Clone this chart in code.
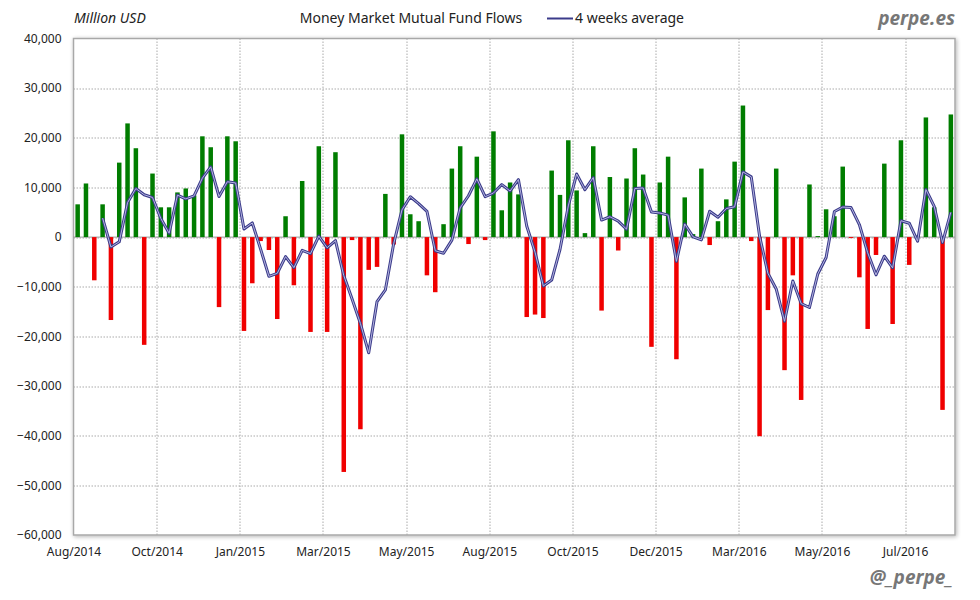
<!DOCTYPE html>
<html>
<head>
<meta charset="utf-8">
<script src="https://cdn.jsdelivr.net/npm/d3@7"></script>
<style>
    body { margin: 0; background: #fff; }
    text { font-family: 'Noto Sans', 'DejaVu Sans', sans-serif; }
</style>
</head>
<body>
<div id="chart"></div>
<script>
// weekly flows, million USD
const flows = [
    6600, 10800, -8700, 6600, -16700, 15000, 22900, 17900, -21700, 12800,
    6000, 6000, 9000, 9800, 8400, 20300, 18100, -14100, 20300, 19300,
    -18900, -9300, -800, -2600, -16500, 4200, -9700, 11300, -19100, 18300,
    -19100, 17100, -47300, -600, -38700, -6600, -6000, 8700, -1500, 20700,
    4600, 3200, -7700, -11100, 2600, 13800, 18300, -1400, 16200, -600,
    21300, 5400, 11000, 8600, -16100, -15600, -16300, 13400, 8500, 19500,
    9400, 800, 18300, -14800, 12100, -2700, 11800, 17900, 12600, -22100,
    11000, 16200, -24600, 8000, 600, 13800, -1600, 3200, 7600, 15200,
    26500, -800, -40100, -14700, 13800, -26800, -7700, -32800, 10600, 200,
    5600, 4200, 14200, -200, -8100, -18500, -3600, 14800, -17500, 19500,
    -5600, 300, 24100, 6000, -34800, 24700,
];

// 4 weeks average line, starts at the 4th week
const average = [
    null, null, null, 3830, -2000, -950, 6950, 9780, 8530, 7980,
    3750, 780, 8450, 7700, 8300, 11880, 14150, 8180, 11150, 10900,
    1650, 2850, -2430, -7900, -7300, -3930, -6150, -2680, -3330, 200,
    -2150, -700, -7750, -12480, -17380, -23300, -12980, -10650, -1350, 5480,
    8130, 6750, 5200, -2750, -3250, -600, 5900, 8330, 11730, 8130,
    8880, 10580, 9280, 11580, 2230, -3030, -9850, -8650, -2500, 6280,
    12700, 9550, 12000, 3430, 4100, 3230, 1600, 9780, 9900, 5050,
    4850, 4430, -4880, 2650, 50, -550, 5200, 4000, 5750, 6100,
    13130, 12130, 200, -7280, -10450, -16950, -8850, -13380, -14180, -7430,
    -4100, 5150, 6050, 5950, 2530, -3150, -7600, -3850, -6200, 3300,
    2800, -830, 9580, 6200, -1100, 5000,
];

// a label every 10 weeks
const tickLabels = [
    'Aug/2014', 'Oct/2014', 'Jan/2015', 'Mar/2015', 'May/2015', 'Aug/2015',
    'Oct/2015', 'Dec/2015', 'Mar/2016', 'May/2016', 'Jul/2016',
];
const yTicks = [40000, 30000, 20000, 10000, 0, -10000, -20000, -30000, -40000, -50000, -60000];

const width = 980;
const height = 600;
const margin = {top: 38.5, right: 25, bottom: 65, left: 73.5};
const innerW = width - margin.left - margin.right;
const innerH = height - margin.top - margin.bottom;

const svg = d3
    .select('#chart')
    .append('svg')
    .attr('width', width)
    .attr('height', height);

const defs = svg.append('defs');
const shadow = defs.append('filter')
    .attr('id', 'shadow')
    .attr('x', '-2%')
    .attr('y', '-2%')
    .attr('width', '104%')
    .attr('height', '104%');
shadow.append('feGaussianBlur')
    .attr('in', 'SourceAlpha')
    .attr('stdDeviation', 2);
shadow.append('feOffset')
    .attr('dx', 1)
    .attr('dy', 1)
    .attr('result', 'blur');
shadow.append('feComponentTransfer')
    .append('feFuncA')
    .attr('type', 'linear')
    .attr('slope', 0.3);
const merge = shadow.append('feMerge');
merge.append('feMergeNode');
merge.append('feMergeNode').attr('in', 'SourceGraphic');

const g = svg.append('g')
    .attr('transform', 'translate(' + margin.left + ',' + margin.top + ')');

// category positions: linear over week index so ticks sit on band edges
const x = d3
    .scaleLinear()
    .domain([0, flows.length])
    .range([0, innerW]);
const step = x(1) - x(0);
const barW = 4.5;

const y = d3
    .scaleLinear()
    .domain([-60000, 40000])
    .range([innerH, 0]);

// frame
g.append('rect')
    .attr('width', innerW)
    .attr('height', innerH)
    .attr('fill', '#fff')
    .attr('stroke', '#a8a8a8')
    .attr('stroke-width', 1.5)
    .attr('filter', 'url(#shadow)');

// grid
g.selectAll('.hgrid')
    .data(yTicks.filter((d) => d !== 40000 && d !== -60000))
    .enter()
    .append('line')
    .attr('class', 'hgrid')
    .attr('x1', 0)
    .attr('x2', innerW)
    .attr('y1', (d) => Math.round(y(d)) + 0.5)
    .attr('y2', (d) => Math.round(y(d)) + 0.5)
    .attr('stroke', '#aaa')
    .attr('stroke-dasharray', '1.5,1.5');

g.selectAll('.vgrid')
    .data(tickLabels.slice(1))
    .enter()
    .append('line')
    .attr('class', 'vgrid')
    .attr('x1', (d, i) => Math.round(x((i + 1) * 10)) + 0.5)
    .attr('x2', (d, i) => Math.round(x((i + 1) * 10)) + 0.5)
    .attr('y1', 0)
    .attr('y2', innerH)
    .attr('stroke', '#aaa')
    .attr('stroke-dasharray', '1.5,1.5');

// zero line
g.append('line')
    .attr('x1', 0)
    .attr('x2', innerW)
    .attr('y1', y(0))
    .attr('y2', y(0))
    .attr('stroke', '#999')
    .attr('stroke-width', 1);

// bars
g.selectAll('.bar')
    .data(flows)
    .enter()
    .append('rect')
    .attr('class', 'bar')
    .attr('x', (d, i) => x(i) + (step - barW) / 2)
    .attr('width', barW)
    .attr('y', (d) => y(Math.max(0, d)))
    .attr('height', (d) => Math.abs(y(d) - y(0)))
    .attr('fill', (d) => d >= 0 ? '#007d00' : '#f00000');

// 4 weeks average
const line = d3
    .line()
    .defined((d) => d !== null)
    .x((d, i) => x(i) + step / 2)
    .y((d) => y(d));

g.append('path')
    .datum(average)
    .attr('d', line)
    .attr('fill', 'none')
    .attr('stroke', '#3b3b8a')
    .attr('stroke-width', 3)
    .attr('stroke-linejoin', 'round');
g.append('path')
    .datum(average)
    .attr('d', line)
    .attr('fill', 'none')
    .attr('stroke', '#b4b4e0')
    .attr('stroke-width', 1)
    .attr('stroke-linejoin', 'round');

// axes
const yAxis = d3
    .axisLeft(y)
    .tickValues(yTicks)
    .tickFormat(d3.format(','))
    .tickSize(0)
    .tickPadding(12);
const yG = g.append('g').call(yAxis);
yG.select('.domain').remove();
yG.selectAll('text')
    .attr('font-size', 12)
    .attr('fill', '#222');

const xAxis = d3
    .axisBottom(x)
    .tickValues(tickLabels.map((d, i) => i * 10))
    .tickFormat((d) => tickLabels[d / 10])
    .tickSize(0)
    .tickPadding(12);
const xG = g.append('g')
    .attr('transform', 'translate(0,' + innerH + ')')
    .call(xAxis);
xG.select('.domain').remove();
xG.selectAll('text')
    .attr('font-size', 12)
    .attr('fill', '#222');

// header
svg.append('text')
    .attr('x', 74)
    .attr('y', 23)
    .attr('font-size', 14)
    .attr('font-style', 'italic')
    .attr('fill', '#222')
    .text('Million USD');

svg.append('text')
    .attr('x', 411)
    .attr('y', 23)
    .attr('text-anchor', 'middle')
    .attr('font-size', 14)
    .attr('fill', '#222')
    .text('Money Market Mutual Fund Flows');

svg.append('line')
    .attr('x1', 547)
    .attr('x2', 573)
    .attr('y1', 18.5)
    .attr('y2', 18.5)
    .attr('stroke', '#3b3b8a')
    .attr('stroke-width', 2);
svg.append('text')
    .attr('x', 575)
    .attr('y', 23)
    .attr('font-size', 14)
    .attr('fill', '#222')
    .text('4 weeks average');

svg.append('text')
    .attr('x', 955)
    .attr('y', 25)
    .attr('text-anchor', 'end')
    .attr('font-family', '"DejaVu Sans Mono", monospace')
    .attr('font-weight', 'bold')
    .attr('font-style', 'italic')
    .attr('font-size', 19)
    .attr('fill', '#777')
    .text('perpe.es');

svg.append('text')
    .attr('x', 953)
    .attr('y', 584)
    .attr('text-anchor', 'end')
    .attr('font-family', '"DejaVu Sans Mono", monospace')
    .attr('font-weight', 'bold')
    .attr('font-style', 'italic')
    .attr('font-size', 19)
    .attr('fill', '#777')
    .text('@_perpe_');
</script>
</body>
</html>
